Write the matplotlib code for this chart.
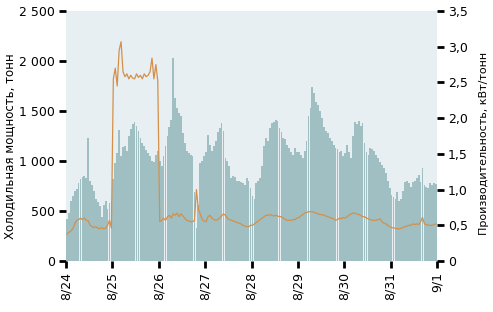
import numpy as np
import matplotlib
matplotlib.use("Agg")
import matplotlib.pyplot as plt

# Hourly cooling load, tons (8/24 00:00 .. 8/31 23:00)
load_824 = [420, 480, 600, 650, 700, 720, 780, 820, 840, 850, 830, 1230,
            800, 760, 700, 620, 590, 550, 440, 560, 600, 520, 580, 600]
load_825 = [820, 980, 1080, 1310, 1050, 1140, 1150, 1100, 1250, 1320, 1370, 1390,
            1350, 1300, 1230, 1180, 1150, 1110, 1080, 1050, 1000, 990, 1060, 1100]
load_826 = [1000, 950, 1050, 1150, 1250, 1340, 1410, 2030, 1630, 1530, 1480, 1450,
            1280, 1180, 1100, 1080, 1060, 1050, 690, 330, 560, 980, 1000, 1050]
load_827 = [1090, 1260, 1160, 1100, 1150, 1200, 1290, 1330, 1380, 1300, 1030, 1000,
            950, 830, 850, 840, 800, 800, 790, 780, 760, 830, 800, 730]
load_828 = [650, 620, 780, 800, 830, 950, 1150, 1230, 1200, 1330, 1380, 1390,
            1410, 1400, 1330, 1290, 1230, 1220, 1160, 1130, 1090, 1060, 1130, 1090]
load_829 = [1090, 1060, 1030, 1100, 1200, 1450, 1530, 1740, 1680, 1590, 1560, 1500,
            1430, 1340, 1300, 1280, 1230, 1200, 1160, 1130, 1120, 1090, 1100, 1050]
load_830 = [1080, 1160, 1090, 1030, 1250, 1390, 1370, 1400, 1350, 1380, 1180, 1090,
            1060, 1130, 1120, 1100, 1060, 1030, 990, 960, 930, 880, 800, 730]
load_831 = [660, 640, 620, 690, 600, 620, 700, 790, 800, 780, 740, 790,
            800, 830, 860, 790, 930, 760, 740, 730, 780, 760, 780, 770]

# Hourly efficiency, kW/ton
eff_824 = [0.38, 0.40, 0.42, 0.45, 0.52, 0.57, 0.58, 0.60, 0.58, 0.60, 0.57, 0.56,
           0.50, 0.48, 0.47, 0.48, 0.46, 0.45, 0.47, 0.45, 0.46, 0.50, 0.57, 0.46]
eff_825 = [2.55, 2.70, 2.45, 2.95, 3.07, 2.65, 2.58, 2.62, 2.55, 2.60, 2.56, 2.55,
           2.62, 2.57, 2.60, 2.55, 2.62, 2.58, 2.60, 2.65, 2.84, 2.55, 2.75, 2.52]
eff_826 = [0.55, 0.57, 0.60, 0.57, 0.62, 0.64, 0.60, 0.66, 0.64, 0.67, 0.62, 0.66,
           0.63, 0.60, 0.57, 0.56, 0.55, 0.55, 0.57, 1.00, 0.72, 0.66, 0.58, 0.56]
eff_827 = [0.55, 0.62, 0.64, 0.60, 0.58, 0.57, 0.58, 0.60, 0.63, 0.66, 0.64, 0.60,
           0.58, 0.57, 0.56, 0.55, 0.54, 0.53, 0.52, 0.50, 0.49, 0.48, 0.48, 0.50]
eff_828 = [0.50, 0.52, 0.54, 0.56, 0.58, 0.60, 0.62, 0.64, 0.64, 0.65, 0.64, 0.63,
           0.64, 0.63, 0.62, 0.62, 0.60, 0.58, 0.57, 0.57, 0.57, 0.58, 0.58, 0.60]
eff_829 = [0.61, 0.63, 0.65, 0.67, 0.68, 0.69, 0.69, 0.69, 0.68, 0.67, 0.66, 0.65,
           0.65, 0.64, 0.63, 0.62, 0.61, 0.60, 0.59, 0.57, 0.58, 0.60, 0.59, 0.61]
eff_830 = [0.60, 0.62, 0.64, 0.66, 0.67, 0.67, 0.66, 0.65, 0.64, 0.62, 0.62, 0.60,
           0.59, 0.58, 0.57, 0.57, 0.57, 0.58, 0.59, 0.55, 0.53, 0.52, 0.50, 0.48]
eff_831 = [0.47, 0.46, 0.46, 0.45, 0.45, 0.46, 0.47, 0.48, 0.49, 0.50, 0.50, 0.52,
           0.51, 0.52, 0.51, 0.55, 0.61, 0.52, 0.51, 0.50, 0.50, 0.50, 0.51, 0.52]

date_labels = ["8/24", "8/25", "8/26", "8/27", "8/28", "8/29", "8/30", "8/31", "9/1"]
left_ticks = [0, 500, 1000, 1500, 2000, 2500]
left_tick_labels = ["0", "500", "1 000", "1 500", "2 000", "2 500"]
right_ticks = [0, 0.5, 1.0, 1.5, 2.0, 2.5, 3.0, 3.5]
right_tick_labels = ["0", "0,5", "1,0", "1,5", "2,0", "2,5", "3,0", "3,5"]
ylabel_left = "Холодильная мощность, тонн"
ylabel_right = "Производительность, кВт/тонн"

load = np.array(load_824 + load_825 + load_826 + load_827 +
                load_828 + load_829 + load_830 + load_831, dtype=float)
eff = np.array(eff_824 + eff_825 + eff_826 + eff_827 +
               eff_828 + eff_829 + eff_830 + eff_831, dtype=float)
hours = np.arange(len(load))

plt.rcParams['font.family'] = ['DejaVu Sans']
fig = plt.figure(figsize=(4.93, 3.12), dpi=100)
ax = fig.add_axes([66/493, 1 - 261/312, (437-66)/493, 250/312])
ax.set_facecolor('#e8eff2')

ax.bar(hours + 0.5, load, width=0.92, color='#a0bfc2', linewidth=0, zorder=2)
ax.set_xlim(0, 192)
ax.set_ylim(0, 2500)
ax.set_yticks(left_ticks)
ax.set_yticklabels(left_tick_labels)
ax.set_xticks(np.arange(len(date_labels)) * 24)
ax.set_xticklabels(date_labels, rotation=90)
for s in ax.spines.values():
    s.set_visible(False)
ax.tick_params(axis='both', length=5, width=2, color='black', labelsize=9, pad=3)
ax.set_ylabel(ylabel_left, fontsize=8.5)
ax.yaxis.set_label_coords(-50/371, 0.46)

ax2 = ax.twinx()
ax2.plot(hours + 0.5, eff, color='#d4904a', linewidth=0.9, zorder=3)
ax2.set_ylim(0, 3.5)
ax2.set_yticks(right_ticks)
ax2.set_yticklabels(right_tick_labels)
for s in ax2.spines.values():
    s.set_visible(False)
ax2.tick_params(axis='y', length=5, width=2, color='black', labelsize=9, pad=3)
ax2.set_ylabel(ylabel_right, fontsize=8)
ax2.yaxis.set_label_coords(1 + 42/371, 0.47)

fig.savefig("out.png", dpi=100)
